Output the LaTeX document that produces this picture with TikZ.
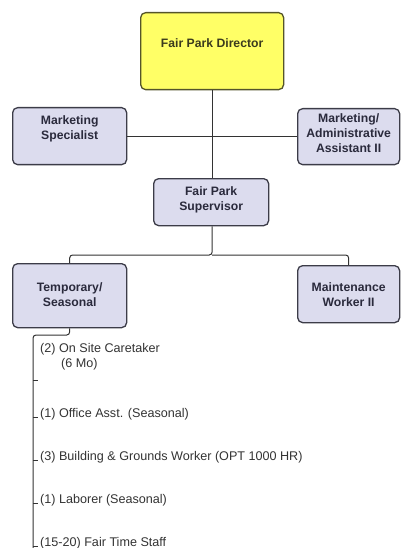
\documentclass[tikz,border=0pt]{standalone}
\usepackage{fontspec}
\setmainfont{Liberation Sans}
\usepackage{xcolor}
\usetikzlibrary{calc,positioning}

\definecolor{boxfill}{HTML}{DCDCEE}
\definecolor{boxline}{HTML}{3C3C48}
\definecolor{boxtext}{HTML}{2A2A3C}
\definecolor{dirfill}{HTML}{FFFF66}
\definecolor{dirline}{HTML}{55552A}
\definecolor{linkcol}{HTML}{333333}

\begin{document}
\begin{tikzpicture}[x=1pt,y=-1pt,
		post/.style={draw=boxline,fill=boxfill,line width=1.3pt,rounded corners=5pt,
			anchor=north west,inner sep=0pt,align=center,text=boxtext,
			font=\fontsize{12.2}{15}\selectfont\bfseries},
		head/.style={post,draw=dirline,fill=dirfill,text=dirline!70!black},
		link/.style={draw=linkcol,line width=1pt,rounded corners=3pt},
		item/.style={anchor=base west,inner sep=0pt,align=left,text=black!80,
			font=\fontsize{12.6}{15}\selectfont}]
		\useasboundingbox (0,0) rectangle (401,548);
		
		% boxes
		\node[head,minimum width=143pt,text height=35pt,text depth=42pt] (dir) at (140,12) {Fair Park Director};
		\node[post,minimum width=114pt,text height=32pt,text depth=25pt] (spec) at (12,107) {Marketing\\Specialist};
		\node[post,minimum width=102pt,text height=43.5pt,text depth=12.5pt] (admin) at (297,108) {Marketing/\\Administrative\\Assistant II};
		\node[post,minimum width=115pt,text height=32pt,text depth=15pt] (sup) at (153,178) {Fair Park\\Supervisor};
		\node[post,minimum width=114pt,text height=43pt,text depth=21pt] (temp) at (12,263) {Temporary/\\Seasonal};
		\node[post,minimum width=102pt,text height=41pt,text depth=16pt] (maint) at (297,265) {Maintenance\\Worker II};
		
		% staff list
		\node[item] (care) at (40,367) {(2) On Site Caretaker\\\hspace{21pt}(6 Mo)};
		\node[item] (office) at (40,417) {(1) Office Asst. (Seasonal)};
		\node[item] (build) at (40,460) {(3) Building \& Grounds Worker (OPT 1000 HR)};
		\node[item] (labor) at (40,503) {(1) Laborer (Seasonal)};
		\node[item] (fair) at (40,546) {(15-20) Fair Time Staff};
		
		% links
		\coordinate (split) at (dir.south |- 0,255);
		\coordinate (spine) at (33,335);
		\coordinate (spineend) at (33,548);
		\draw[link] (dir.south) -- (dir.south |- sup.north);
		\draw[link] (spec.east) -- (dir.south |- spec.east);
		\draw[link] (admin.west) -- (dir.south |- admin.west);
		\draw[link] (dir.south |- sup.south) -- (split) -| (temp.north);
		\draw[link] (split) -| (maint.north);
		\draw[link] (temp.south) |- (spine) -- (spineend);
		\draw[link] (spine |- 0,380) -- ([xshift=-2pt]care.west |- 0,380);
		\foreach \n in {office,build,labor,fair}
			\draw[link] (spine |- \n.base west) -- ([xshift=-2pt]\n.base west);
	\end{tikzpicture}
\end{document}
